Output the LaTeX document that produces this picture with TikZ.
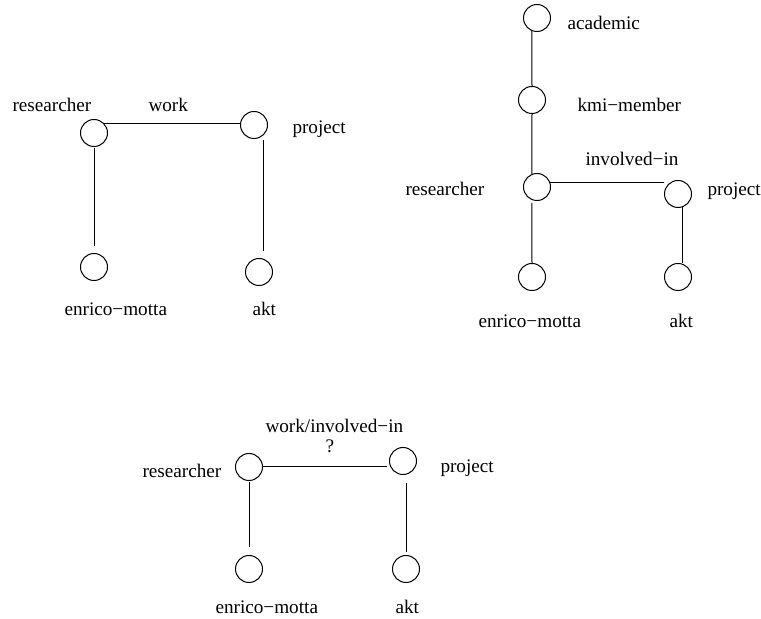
\documentclass[tikz,border=0pt]{standalone}
\usepackage{fontspec}
\setmainfont{Liberation Serif}
\tikzset{
  concept/.style={draw,circle,minimum size=13.5pt,inner sep=0pt},
  word/.style={anchor=base west,inner sep=0pt,font=\fontsize{9.6}{11}\selectfont},
}
\begin{document}
\begin{tikzpicture}[x=0.5pt,y=-0.5pt,line width=0.5pt]
        \useasboundingbox (0,0) rectangle (761,619);
        %% first graph: work
        \node[concept] (res1) at (94,133) {};
        \node[concept] (proj1) at (254,125) {};
        \node[concept] (enr1) at (94,267) {};
        \node[concept] (akt1) at (259,272) {};
        \node[word] (res1lab) at (12,112) {researcher};
        \node[word] (work1lab) at (148,112) {work};
        \node[word] (proj1lab) at (292,134) {project};
        \node[word] (enr1lab) at (64,316) {enrico−motta};
        \node[word] (akt1lab) at (252,316) {akt};
        \draw (res1.north east) -- (res1.north east -| proj1.west);
        \draw[shorten <=0.75pt,shorten >=3.25pt] (res1.south) -- (enr1.north);
        \draw[shorten <=2.75pt,shorten >=3.25pt] (proj1.-45) -- (proj1.-45 |- akt1.north);
        %% second graph: involved-in
        \node[concept] (acad2) at (537,18) {};
        \node[concept] (kmi2) at (532,100) {};
        \node[concept] (res2) at (537,187) {};
        \node[concept] (proj2) at (678,194) {};
        \node[concept] (enr2) at (532,277) {};
        \node[concept] (akt2) at (678,277) {};
        \node[word] (acad2lab) at (567,30) {academic};
        \node[word] (kmi2lab) at (577,112) {kmi−member};
        \node[word] (inv2lab) at (585,166) {involved−in};
        \node[word] (res2lab) at (405,196) {researcher};
        \node[word] (proj2lab) at (707,196) {project};
        \node[word] (enr2lab) at (478,328) {enrico−motta};
        \node[word] (akt2lab) at (669,328) {akt};
        \draw (acad2.-112) -- (kmi2.north);
        \draw (kmi2.south) -- (res2.112);
        \draw[shorten <=1.5pt] (res2.-112) -- (enr2.north);
        \draw (res2.17) -- (res2.17 -| proj2.west);
        \draw (proj2.-73) -- (proj2.-73 |- akt2.north);
        %% third graph: which relation?
        \node[concept] (res3) at (249,467) {};
        \node[concept] (proj3) at (403,461) {};
        \node[concept] (enr3) at (249,569) {};
        \node[concept] (akt3) at (406,569) {};
        \node[word] (rel3lab) at (265,433) {work/involved−in};
        \node[word] (q3lab) at (325,453) {?};
        \node[word] (res3lab) at (142,478) {researcher};
        \node[word] (proj3lab) at (440,473) {project};
        \node[word] (enr3lab) at (215,614) {enrico−motta};
        \node[word] (akt3lab) at (395,614) {akt};
        \draw[shorten >=1.25pt] (res3.east) -- (res3.east -| proj3.west);
        \draw[shorten <=0.75pt,shorten >=3.75pt] (res3.south) -- (enr3.north);
        \draw[shorten <=4pt,shorten >=1.25pt] (proj3.-77) -- (proj3.-77 |- akt3.north);
\end{tikzpicture}
\end{document}
